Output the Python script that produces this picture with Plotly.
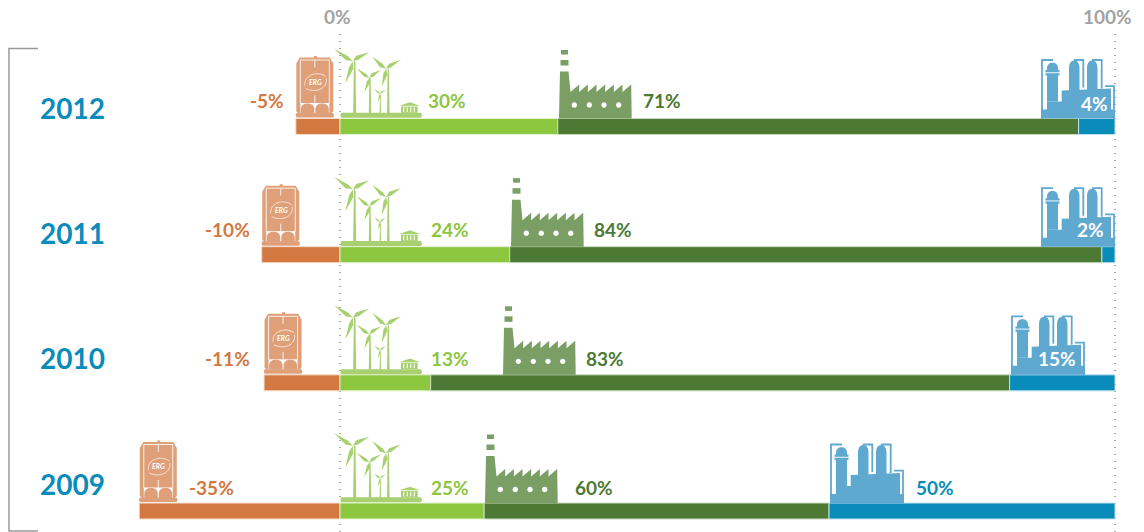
import re
import plotly.graph_objects as go

W, H = 1144, 532

# bar segments, % of axis
years = ['2012', '2011', '2010', '2009']
oil = [-5.7, -10.1, -9.8, -25.9]
wind = [28.1, 21.9, 11.7, 18.6]
thermal = [67.2, 76.4, 74.7, 44.5]
refining = [4.7, 1.7, 13.6, 36.9]

# printed labels
oil_labels = ['-5%', '-10%', '-11%', '-35%']
wind_labels = ['30%', '24%', '13%', '25%']
thermal_labels = ['71%', '84%', '83%', '60%']
refining_labels = ['4%', '2%', '15%', '50%']

ORANGE, ORANGE_L = '#D27840', '#DF9F78'
GREEN, GREEN_L = '#8DC63F', '#A9D070'
DARK, DARK_L = '#4C7A34', '#7B9E65'
BLUE, BLUE_L = '#0A8CBB', '#5FA9D0'
GREY = '#A3A3A3'

PX_PER_PCT = 7.75
X0_PX = 340
ROW0_PX = 126.5
ROW_STEP = 128.17
BAR_PX = 16

# label and icon placement, pixels
year_y = [108, 233, 358, 484]
label_y = [100, 230, 358, 487]
oil_lbl_x = [267, 227, 227, 211]
wind_lbl_x = [447, 450, 450, 450]
thermal_lbl_x = [662, 613, 605, 594]
refining_lbl_x = [1094, 1090, 1057, 935]
refining_lbl_y = [103, 230, 358, 487]
refining_colors = ['white', 'white', 'white', BLUE]
factory_x = [559, 511, 503, 485]
refinery_x = [1041, 1041, 1011, 830]


def px_x(v):
    return X0_PX + v * PX_PER_PCT


def row_top(i):
    return ROW0_PX + ROW_STEP * i - BAR_PX / 2


def place(path, x0, y0):
    # local icon coords (u right, v up) -> paper coords
    nums = []
    out = []
    for tok in re.findall(r'[MLCQZ]|-?[\d.]+', path):
        if tok.isalpha():
            out.append(tok)
        else:
            nums.append(tok)
            if len(nums) == 2:
                px = (x0 + float(nums[0])) / W
                py = 1 - (y0 - float(nums[1])) / H
                out.append(f'{px:.5f},{py:.5f}')
                nums = []
    return ' '.join(out)


def poly(pts):
    return 'M ' + ' L '.join(f'{u} {v}' for u, v in pts) + ' Z'


def rect(u0, v0, u1, v1):
    return poly([(u0, v0), (u1, v0), (u1, v1), (u0, v1)])


def line(pts):
    return 'M ' + ' L '.join(f'{u} {v}' for u, v in pts)


def circle(u, v, r):
    k = r * 0.55
    return (f'M {u-r} {v} C {u-r} {v+k} {u-k} {v+r} {u} {v+r} '
            f'C {u+k} {v+r} {u+r} {v+k} {u+r} {v} '
            f'C {u+r} {v-k} {u+k} {v-r} {u} {v-r} '
            f'C {u-k} {v-r} {u-r} {v-k} {u-r} {v} Z')


def dome(u0, u1, v0, vtop, vside):
    mid = (u0 + u1) / 2
    return (f'M {u0} {v0} L {u0} {vside} C {u0} {vtop} {mid-1} {vtop} {mid} {vtop} '
            f'C {mid+1} {vtop} {u1} {vtop} {u1} {vside} L {u1} {v0} Z')


def blade(hub, tip, w):
    du, dv = tip[0] - hub[0], tip[1] - hub[1]
    n = (du ** 2 + dv ** 2) ** 0.5
    nu, nv = -dv / n * w, du / n * w
    mu, mv = hub[0] + du * 0.3, hub[1] + dv * 0.3
    return poly([hub, (mu + nu, mv + nv), tip, (mu - nu * 0.5, mv - nv * 0.5)])


shapes = []


def add(path, x0, y0, fill=None, stroke=None, lw=0):
    shapes.append(dict(type='path', path=place(path, x0, y0), xref='paper', yref='paper',
                       fillcolor=fill if fill else 'rgba(0,0,0,0)',
                       line=dict(color=stroke if stroke else 'rgba(0,0,0,0)', width=lw)))


def tank(x0, y0):
    c = ORANGE_L
    soft = 'rgba(255,255,255,0.85)'
    add('M 1 1 L 37 1 C 38.5 1 38.5 5.5 37 5.5 L 1 5.5 C -0.5 5.5 -0.5 1 1 1 Z', x0, y0, c)
    add(poly([(0.5, 7), (0.5, 55), (4, 61), (18, 61), (18, 62.5), (21, 62.5), (21, 61),
              (34, 61), (37.5, 55), (37.5, 7), (35, 5), (3, 5)]), x0, y0, c)
    add(line([(4.5, 15), (4.5, 58.5), (33.5, 58.5), (33.5, 15)]), x0, y0, None, soft, 1)
    add(line([(19, 58.5), (19, 51)]), x0, y0, None, soft, 1)
    add(line([(19, 23), (19, 15)]), x0, y0, None, soft, 1)
    # bottom cut-out with two domes
    add(rect(4.5, 5.5, 33.5, 15.5), x0, y0, 'white')
    add(dome(5, 18.5, 5, 15, 9), x0, y0, c)
    add(dome(19.5, 33, 5, 15, 9), x0, y0, c)
    # logo swirl
    add('M 9 33 C 8 44 22 48 30 42', x0, y0, None, soft, 0.8)
    add('M 30.5 40 C 32 30 20 25 10 30', x0, y0, None, soft, 0.8)


TURBINES = [
    ((12.7, 57.3), [(-5.7, 69.7), (29.3, 66.3), (5.3, 35.3)], 14.7, 3, 3),
    ((29.3, 40.7), [(16.7, 50.3), (41, 48.7), (24.3, 26.3)], 30, 2.4, 2.4),
    ((46, 49.7), [(32.3, 62), (61, 58.7), (41.7, 32)], 48.3, 2.6, 2.8),
    ((40, 24.7), [(34.3, 29.7), (45.7, 28.7), (37.7, 16.3)], 40.3, 1.4, 1.2),
]


def windfarm(x0, y0):
    c = GREEN_L
    add('M 2 0.7 L 80 0.7 C 82.5 0.7 82.5 5.7 80 5.7 L 2 5.7 C 0 5.7 0 0.7 2 0.7 Z', x0, y0, c)
    for hub, tips, tx, tw, bw in TURBINES:
        add(poly([(tx - tw / 2, 5), (tx + tw / 2, 5), (tx + tw / 4, hub[1]), (tx - tw / 4, hub[1])]), x0, y0, c)
        for tip in tips:
            add(blade(hub, tip, bw), x0, y0, c)
    add(poly([(59.3, 12.7), (70, 16.3), (80, 12.7)]), x0, y0, c)
    add(rect(61, 5.7, 77.7, 12), x0, y0, c)
    for u in (63.2, 66.7, 70.2, 73.7):
        add(rect(u, 6.5, u + 1.1, 11.2), x0, y0, 'white')


def factory(x0, y0):
    c = DARK_L
    pts = [(0, 0), (1, 47), (9.5, 47), (11.5, 26.5)]
    for k in range(7):
        u = 11.5 + 8.67 * k
        pts.extend([(u + 8.67, 34), (u + 8.67, 26.5)] if k < 6 else [(u + 8.67, 34)])
    pts.append((72.7, 0))
    add(poly(pts), x0, y0, c)
    add(rect(1.5, 53, 9.5, 58.5), x0, y0, c)
    add(rect(2, 64, 9, 68.5), x0, y0, c)
    for u in (15.3, 30.3, 45, 59.7):
        add(circle(u, 13.5, 2.7), x0, y0, 'white')


def refinery(x0, y0):
    c = BLUE_L
    add(poly([(0, 0), (74, 0), (74, 9), (70, 9), (70, 30), (20.7, 28), (20.7, 17),
              (6, 17), (6, 9), (0, 9)]), x0, y0, c)
    add(dome(6, 17, 17, 55.7, 50), x0, y0, c)
    add(rect(4.5, 43, 18.5, 48.5), x0, y0, c)
    add(rect(4, 45.3, 19, 46.2), x0, y0, 'white')
    add(dome(28, 38.5, 26, 58, 50), x0, y0, c)
    add(dome(46, 56.5, 26, 58, 50), x0, y0, c)
    for pts in ([(1, 0), (1, 58.5), (12, 58.5)],
                [(33, 58.5), (42.3, 58.5), (42.3, 31)],
                [(51, 58.5), (60.7, 58.5), (60.7, 30)],
                [(64, 32.3), (73, 32.3), (73, 0)]):
        add(line(pts), x0, y0, None, c, 1.8)


# dotted 0% and 100% guides
guides = [dict(type='line', xref='x', yref='paper', x0=v, x1=v, y0=0, y1=1 - 30 / H, layer='below',
               line=dict(color='#8C8C8C', width=1.5, dash='1px,6px')) for v in (0, 100)]
# bracket on the left
bracket = [dict(type='path', xref='paper', yref='paper', layer='below',
                path=f'M {38/W},{1-48.5/H} L {9/W},{1-48.5/H} L {9/W},{1-531/H} L {38/W},{1-531/H}',
                line=dict(color='#999999', width=1.5))]

annotations = []


def label(txt, x, y, color, size=19):
    annotations.append(dict(text=f'<b>{txt}</b>', x=x / W, y=1 - y / H, xref='paper', yref='paper',
                            xanchor='center', yanchor='middle', showarrow=False,
                            font=dict(family='Lato', size=size, color=color)))


label('0%', 337, 16, GREY)
label('100%', 1107, 16, GREY)

for i, yr in enumerate(years):
    top = row_top(i)
    left = px_x(oil[i])
    tank(left, top)
    windfarm(X0_PX, top)
    factory(factory_x[i], top)
    refinery(refinery_x[i], top)
    label(yr, 72, year_y[i], BLUE, 28)
    label(oil_labels[i], oil_lbl_x[i], label_y[i], ORANGE)
    label(wind_labels[i], wind_lbl_x[i], label_y[i], GREEN)
    label(thermal_labels[i], thermal_lbl_x[i], label_y[i], DARK)
    label(refining_labels[i], refining_lbl_x[i], refining_lbl_y[i], refining_colors[i])
    # ERG wordmark on the tank
    annotations.append(dict(text='<i><b>ERG</b></i>', x=(left + 19.5) / W, y=1 - (top - 37) / H,
                            xref='paper', yref='paper', xanchor='center', yanchor='middle',
                            showarrow=False, font=dict(family='Lato', size=7, color='white')))

fig = go.Figure()
for vals, col, edge in ((oil, ORANGE, '#F3DDCB'), (wind, GREEN, '#E3F1CE'),
                        (thermal, DARK, '#C9D8BE'), (refining, BLUE, '#BFE0EE')):
    fig.add_trace(go.Bar(y=years, x=vals, orientation='h', width=BAR_PX / ROW_STEP,
                         marker=dict(color=col, line=dict(color=edge, width=1))))

fig.update_layout(
    width=W, height=H, barmode='relative', showlegend=False,
    margin=dict(l=0, r=0, t=0, b=0), plot_bgcolor='white', paper_bgcolor='white',
    xaxis=dict(visible=False, range=[(0 - X0_PX) / PX_PER_PCT, (W - X0_PX) / PX_PER_PCT]),
    yaxis=dict(visible=False, type='category', categoryorder='array', categoryarray=years,
               range=[(H - ROW0_PX) / ROW_STEP, -ROW0_PX / ROW_STEP]),
    shapes=guides + bracket + shapes,
    annotations=annotations,
)

fig.write_html('out.html', config=dict(displayModeBar=False),
               post_script="document.body.style.margin='0';document.body.style.overflow='hidden';")
